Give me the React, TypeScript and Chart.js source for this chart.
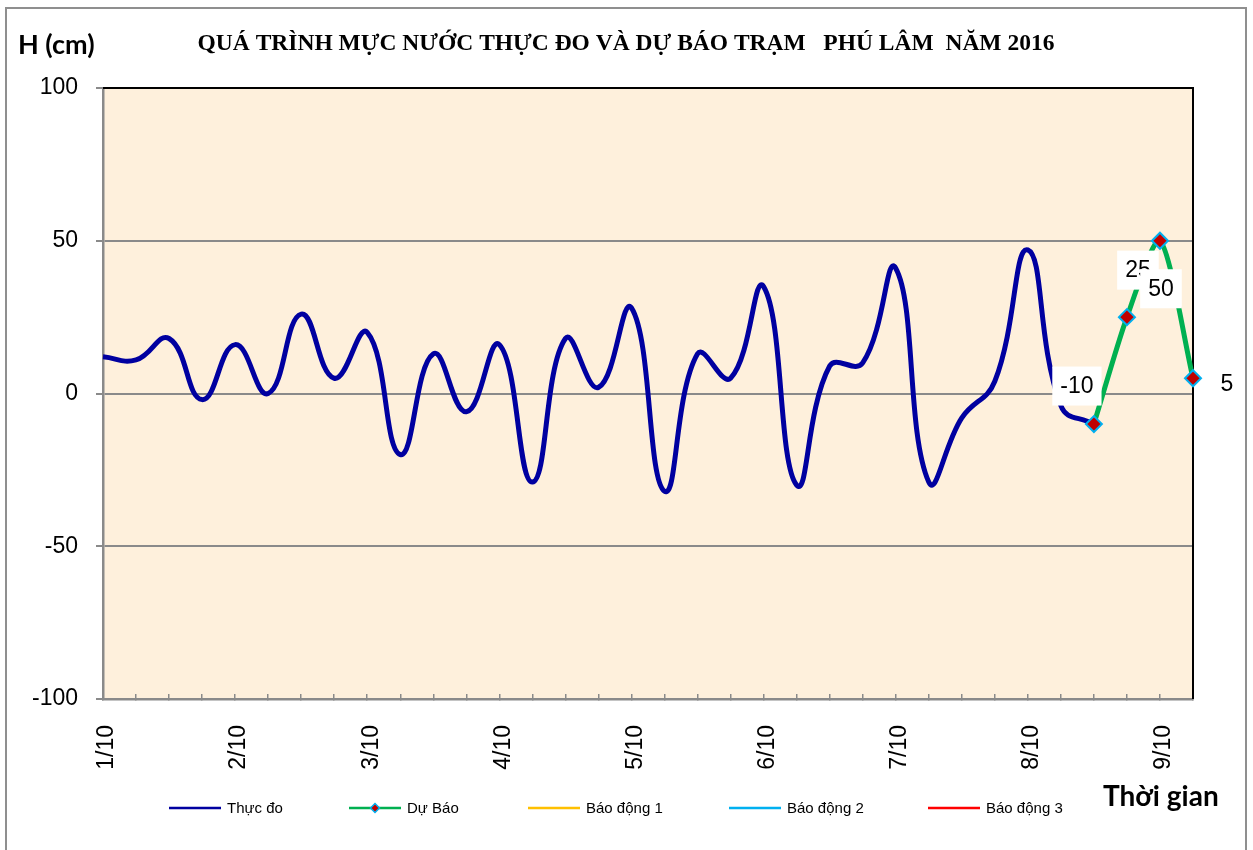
import React, { useEffect, useRef } from 'react';
import { Chart, registerables } from 'chart.js';

Chart.register(...registerables);

// ---- data ----
const categories: string[] = [
  '1/10', '', '', '', '2/10', '', '', '', '3/10', '', '', '', '4/10', '', '', '',
  '5/10', '', '', '', '6/10', '', '', '', '7/10', '', '', '', '8/10', '', '', '',
  '9/10', '',
];

const thucDo: (number | null)[] = [
  12, 11, 18, -2, 16, 0, 26, 5, 20, -20, 13, -6, 16, -29, 18, 2,
  28, -32, 13, 5, 35, -30, 9, 10, 41, -29, -8, 4, 47, -4, -10, null,
  null, null,
];

const duBao: (number | null)[] = [
  null, null, null, null, null, null, null, null, null, null, null, null, null, null, null, null,
  null, null, null, null, null, null, null, null, null, null, null, null, null, null, -10, 25,
  50, 5,
];

const baoDong1: (number | null)[] = [];
const baoDong2: (number | null)[] = [];
const baoDong3: (number | null)[] = [];

const yTicks = [-100, -50, 0, 50, 100];

const TITLE = 'QUÁ TRÌNH MỰC NƯỚC THỰC ĐO VÀ DỰ BÁO TRẠM   PHÚ LÂM  NĂM 2016';
const Y_TITLE = 'H (cm)';
const X_TITLE = 'Thời gian';

// label placement offsets (style) for forecast data labels
const LABEL_OFFSETS: Record<number, [number, number]> = {
  30: [-17, -38],
  31: [11, -47],
  32: [1, 48],
  33: [34, 5],
};

// legend item start positions (style)
const LEGEND_X = [169, 349, 528, 729, 928];

const SANS = '"Liberation Sans", Arial, sans-serif';

const decorPlugin = {
  id: 'decor',
  beforeDraw(chart: any) {
    const { ctx, chartArea: a } = chart;
    ctx.save();
    ctx.fillStyle = '#ffffff';
    ctx.fillRect(0, 0, chart.width, chart.height);
    ctx.fillStyle = '#FEF0DC';
    ctx.fillRect(a.left, a.top, a.right - a.left, a.bottom - a.top);
    ctx.restore();
  },
  beforeDatasetsDraw(chart: any) {
    const { ctx, chartArea: a } = chart;
    ctx.save();
    ctx.strokeStyle = '#000000';
    ctx.lineWidth = 2;
    ctx.beginPath();
    ctx.moveTo(a.left, a.top);
    ctx.lineTo(a.right, a.top);
    ctx.lineTo(a.right, a.bottom);
    ctx.stroke();
    ctx.restore();
  },
  afterDatasetsDraw(chart: any) {
    const { ctx } = chart;
    const dsIndex = chart.data.datasets.findIndex((d: any) => d.label === 'Dự Báo');
    const meta = chart.getDatasetMeta(dsIndex);
    const values = chart.data.datasets[dsIndex].data;
    ctx.save();
    ctx.font = '23px ' + SANS;
    ctx.textAlign = 'center';
    ctx.textBaseline = 'middle';
    meta.data.forEach((pt: any, i: number) => {
      const v = values[i];
      if (v === null || v === undefined) return;
      const off = LABEL_OFFSETS[i] || [0, -30];
      const cx = pt.x + off[0];
      const cy = pt.y + off[1];
      const text = String(v);
      const w = ctx.measureText(text).width + 16;
      const h = 39;
      ctx.fillStyle = '#ffffff';
      ctx.fillRect(cx - w / 2, cy - h / 2, w, h);
      ctx.fillStyle = '#000000';
      ctx.fillText(text, cx, cy + 1);
    });
    ctx.restore();
  },
  afterDraw(chart: any) {
    const { ctx } = chart;
    ctx.save();
    // outer border
    ctx.strokeStyle = '#8f8f8f';
    ctx.lineWidth = 2;
    ctx.strokeRect(6, 8, 1240, 900);

    // title
    ctx.fillStyle = '#000000';
    ctx.font = 'bold 23.5px "Liberation Serif", "Times New Roman", serif';
    ctx.textAlign = 'center';
    ctx.textBaseline = 'alphabetic';
    ctx.fillText(TITLE, 626, 50);

    // axis titles
    ctx.font = 'bold 27px Lato, "Open Sans", sans-serif';
    ctx.textAlign = 'left';
    ctx.fillText(Y_TITLE, 18, 54);
    ctx.font = 'bold 28px Lato, "Open Sans", sans-serif';
    ctx.fillText(X_TITLE, 1103, 806);

    // legend
    ctx.font = '15px ' + SANS;
    ctx.textBaseline = 'middle';
    const y = 808;
    chart.data.datasets.forEach((ds: any, i: number) => {
      const x = LEGEND_X[i];
      ctx.strokeStyle = ds.borderColor;
      ctx.lineWidth = 2.5;
      ctx.beginPath();
      ctx.moveTo(x, y);
      ctx.lineTo(x + 52, y);
      ctx.stroke();
      if (ds.pointRadius > 0) {
        const cx = x + 26;
        const r = 4.5;
        ctx.beginPath();
        ctx.moveTo(cx - r, y);
        ctx.lineTo(cx, y - r);
        ctx.lineTo(cx + r, y);
        ctx.lineTo(cx, y + r);
        ctx.closePath();
        ctx.fillStyle = ds.pointBackgroundColor;
        ctx.fill();
        ctx.strokeStyle = ds.pointBorderColor;
        ctx.lineWidth = 1.5;
        ctx.stroke();
      }
      ctx.fillStyle = '#000000';
      ctx.fillText(ds.label, x + 58, y + 1);
    });
    ctx.restore();
  },
};

export default function App() {
  const canvasRef = useRef<HTMLCanvasElement | null>(null);

  useEffect(() => {
    if (!canvasRef.current) return;
    const chart = new Chart(canvasRef.current, {
      type: 'line',
      data: {
        labels: categories,
        datasets: [
          {
            label: 'Thực đo',
            data: thucDo,
            borderColor: '#0000A0',
            backgroundColor: '#0000A0',
            borderWidth: 5,
            tension: 0.45,
            pointRadius: 0,
            pointHoverRadius: 0,
            order: 2,
          },
          {
            label: 'Dự Báo',
            data: duBao,
            borderColor: '#00B050',
            backgroundColor: '#00B050',
            borderWidth: 5,
            tension: 0.25,
            pointStyle: 'rectRot',
            pointRadius: 8,
            pointHoverRadius: 8,
            pointBackgroundColor: '#C00000',
            pointBorderColor: '#00B0F0',
            pointBorderWidth: 2,
            order: 1,
          },
          {
            label: 'Báo động 1',
            data: baoDong1,
            borderColor: '#FFC000',
            backgroundColor: '#FFC000',
            borderWidth: 2,
            pointRadius: 0,
            order: 3,
          },
          {
            label: 'Báo động 2',
            data: baoDong2,
            borderColor: '#00B0F0',
            backgroundColor: '#00B0F0',
            borderWidth: 2,
            pointRadius: 0,
            order: 4,
          },
          {
            label: 'Báo động 3',
            data: baoDong3,
            borderColor: '#FF0000',
            backgroundColor: '#FF0000',
            borderWidth: 2,
            pointRadius: 0,
            order: 5,
          },
        ],
      },
      options: {
        animation: false,
        responsive: false,
        maintainAspectRatio: false,
        events: [],
        layout: { padding: { left: 0, top: 88, right: 60, bottom: 51 } },
        plugins: {
          legend: { display: false },
          title: { display: false },
          tooltip: { enabled: false },
        },
        scales: {
          x: {
            type: 'category',
            offset: false,
            afterFit: (s: any) => {
              s.height = 100;
            },
            grid: {
              display: true,
              drawOnChartArea: false,
              drawTicks: true,
              tickLength: -5,
              color: '#8a8a8a',
              lineWidth: 1.5,
            },
            border: { display: true, color: '#8a8a8a', width: 2.5 },
            ticks: {
              autoSkip: false,
              minRotation: 90,
              maxRotation: 90,
              padding: 31,
              labelOffset: 4,
              color: '#000000',
              font: { family: SANS, size: 23 },
              callback: (_v: any, i: number) => categories[i],
            },
          },
          y: {
            min: yTicks[0],
            max: yTicks[yTicks.length - 1],
            afterFit: (s: any) => {
              s.width = 103;
            },
            afterBuildTicks: (s: any) => {
              s.ticks = yTicks.map((v) => ({ value: v }));
            },
            grid: {
              color: '#8a8a8a',
              lineWidth: 2,
              drawTicks: true,
              tickLength: 7,
            },
            border: { display: true, color: '#8a8a8a', width: 2.5 },
            ticks: {
              padding: 18,
              color: '#000000',
              font: { family: SANS, size: 23 },
            },
          },
        },
      },
      plugins: [decorPlugin],
    });
    return () => chart.destroy();
  }, []);

  return (
    <div style={{ position: 'absolute', left: 0, top: 0, width: 1253, height: 850, background: '#ffffff' }}>
      <canvas ref={canvasRef} width={1253} height={850} style={{ display: 'block', width: 1253, height: 850 }} />
    </div>
  );
}
